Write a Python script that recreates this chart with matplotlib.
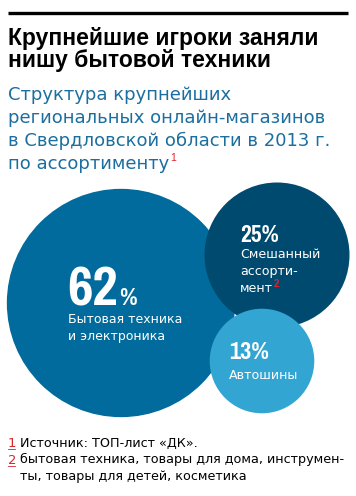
import matplotlib
matplotlib.use("Agg")
import matplotlib.pyplot as plt
import matplotlib.font_manager as fm
from matplotlib.patches import Circle
import numpy as np

# data
shares = [62, 25, 13]
pct_labels = ["62", "25%", "13%"]
cat_labels = [["Бытовая техника", "и электроника"],
              ["Смешанный", "ассорти-", "мент"],
              ["Автошины"]]
title_lines = ["Крупнейшие игроки заняли", "нишу бытовой техники"]
subtitle_lines = ["Структура крупнейших", "региональных онлайн-магазинов",
                  "в Свердловской области в 2013 г.", "по ассортименту"]
notes = [("1", ["Источник: ТОП-лист «ДК»."]),
         ("2", ["бытовая техника, товары для дома, инструмен-",
                "ты, товары для детей, косметика"])]

# layout (pixels)
centers = [(121, 303), (277, 255), (262, 361)]
scale = 14.5
colors = ["#006b9c", "#004a6f", "#33a5d3"]
blue = "#1b6e9f"
red = "#d7262e"
sans = ["Liberation Sans", "DejaVu Sans"]
wide = ["DejaVu Sans"]

# pick a condensed bold face for the big numbers if one is installed
cond = None
for key in ["SansNarrow-Bold", "Narrow-Bold", "Condensed-Bold", "SansCondensed-Bold"]:
    hits = sorted(f.fname for f in fm.fontManager.ttflist if key in f.fname)
    if hits:
        cond = fm.FontProperties(fname=hits[0])
        break
if cond is None:
    cond = fm.FontProperties(family="DejaVu Sans", weight="bold")


def right_of(t):
    fig.canvas.draw()
    bb = t.get_window_extent()
    return ax.transData.inverted().transform((bb.x1, 0))[0]


fig = plt.figure(figsize=(3.56, 4.96), dpi=100)
ax = fig.add_axes([0, 0, 1, 1])
ax.set_xlim(0, 356)
ax.set_ylim(496, 0)
ax.axis("off")

# top rule
ax.plot([8, 348], [12.5, 12.5], color="black", lw=2.4, solid_capstyle="butt")

for i, line in enumerate(title_lines):
    ax.text(8, 45 + i * 22, line, fontsize=16.5, fontweight="bold", family=sans,
            va="baseline", ha="left", color="black")

sub = []
for i, line in enumerate(subtitle_lines):
    sub.append(ax.text(8, 100 + i * 23, line, fontsize=13.0, family=wide,
                       va="baseline", ha="left", color=blue))
ax.text(right_of(sub[-1]) + 1, 161, "1", fontsize=7.5, family=sans, color=red, va="baseline")

# circles
for (cx, cy), v, c in zip(centers, shares, colors):
    ax.add_patch(Circle((cx, cy), scale * np.sqrt(v), color=c, lw=0))

# 62%
big = ax.text(67, 305, pct_labels[0], fontproperties=cond, color="white", va="baseline")
big.set_fontsize(43.5)
pc = ax.text(right_of(big) + 1, 305, "%", fontproperties=cond,
             color="white", va="baseline")
pc.set_fontsize(19)
for i, line in enumerate(cat_labels[0]):
    ax.text(68, 323 + i * 17, line, fontsize=9.0, family=wide, color="white", va="baseline")

# 25%
t25 = ax.text(240, 242, pct_labels[1], fontproperties=cond, color="white", va="baseline")
t25.set_fontsize(18.5)
lab = []
for i, line in enumerate(cat_labels[1]):
    lab.append(ax.text(240, 258 + i * 17, line, fontsize=9.1, family=wide,
                       color="white", va="baseline"))
ax.text(right_of(lab[-1]) + 0.5, 287, "2", fontsize=7, fontweight="bold", family=sans,
        color=red, va="baseline")

# 13%
t13 = ax.text(229, 359, pct_labels[2], fontproperties=cond, color="white", va="baseline")
t13.set_fontsize(19)
ax.text(229, 379, cat_labels[2][0], fontsize=9.1, family=wide, color="white", va="baseline")

# footnotes
y = 447
for num, lines in notes:
    ax.text(8, y, num, fontsize=9.5, family=wide, color=red, va="baseline")
    ax.plot([8, 15], [y + 2, y + 2], color=red, lw=0.6)
    for line in lines:
        ax.text(20, y, line, fontsize=9.15, family=wide, color="black", va="baseline")
        y += 16.5

fig.savefig("out.png", dpi=100)
